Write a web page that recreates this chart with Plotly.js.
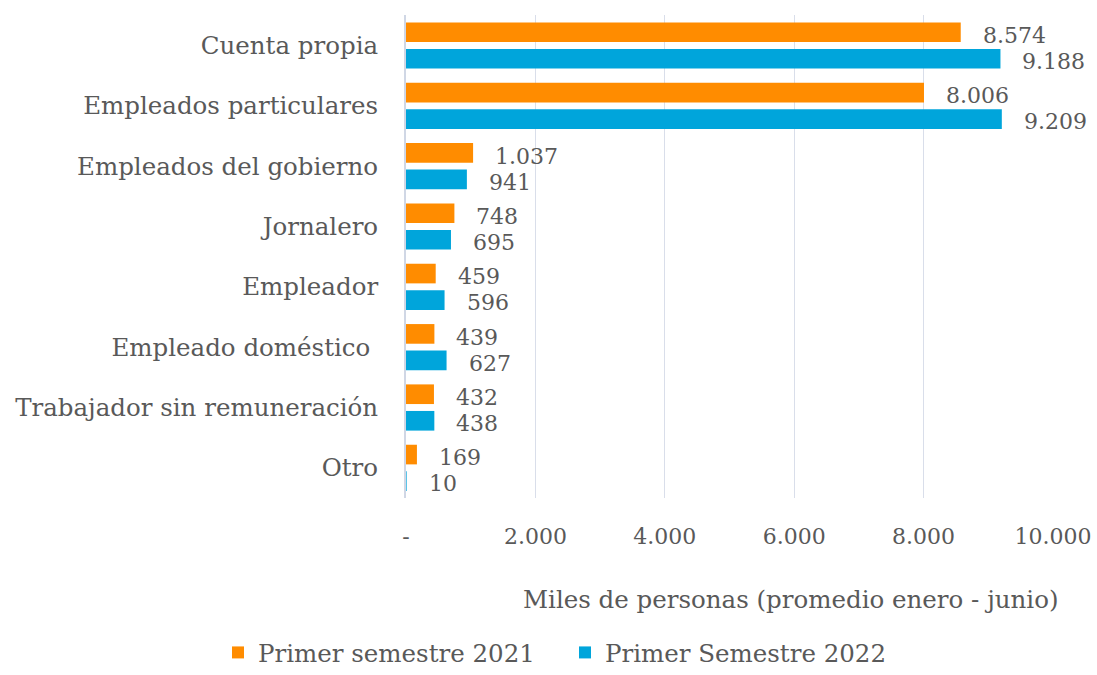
<!DOCTYPE html>
<html><head><meta charset="utf-8">
<script src="https://cdn.plot.ly/plotly-3.0.1.min.js"></script>
<style>html,body{margin:0;padding:0;background:#fff}#chart{width:1097px;height:675px}</style>
</head><body><div id="chart"></div>
<script>
const categories = ["Cuenta propia","Empleados particulares","Empleados del gobierno","Jornalero","Empleador","Empleado doméstico ","Trabajador sin remuneración","Otro"];
const values2021 = [8574,8006,1037,748,459,439,432,169];
const values2022 = [9188,9209,941,695,596,627,438,10];
const seriesNames = ["Primer semestre 2021","Primer Semestre 2022"];
const tickVals = [0,2000,4000,6000,8000,10000];
const tickText = ["-","2.000","4.000","6.000","8.000","10.000"];
const axisTitle = "Miles de personas (promedio enero - junio)";

const FONT = "DejaVu Serif";
const GRAY = "#595959";
const ORANGE = "#FF8C00";
const BLUE = "#00A5DB";
function fmt(v){return String(v).replace(/\B(?=(\d{3})+(?!\d))/g,".");}

const traces = [
 {type:"bar",orientation:"h",name:seriesNames[0],y:categories,x:values2021,marker:{color:ORANGE},hoverinfo:"x"},
 {type:"bar",orientation:"h",name:seriesNames[1],y:categories,x:values2022,marker:{color:BLUE},hoverinfo:"x"}
];
const ann = [];
categories.forEach((c,i)=>{
  ann.push({x:values2021[i],y:c,xref:"x",yref:"y",text:fmt(values2021[i]),showarrow:false,xanchor:"left",yanchor:"middle",xshift:20,yshift:10,font:{family:FONT,size:22,color:GRAY}});
  ann.push({x:values2022[i],y:c,xref:"x",yref:"y",text:fmt(values2022[i]),showarrow:false,xanchor:"left",yanchor:"middle",xshift:20,yshift:-16,font:{family:FONT,size:22,color:GRAY}});
});
ann.push({x:(790-406)/647,y:(498-599)/483,xref:"paper",yref:"paper",text:axisTitle,showarrow:false,xanchor:"center",yanchor:"middle",font:{family:FONT,size:24.5,color:GRAY}});

const layout = {
 width:1097,height:675,
 margin:{l:406,r:44,t:15,b:177,autoexpand:false},
 paper_bgcolor:"#fff",plot_bgcolor:"#fff",
 barmode:"group",bargap:0.12,bargroupgap:0.26,
 showlegend:true,
 legend:{orientation:"h",x:(218-406)/647,xanchor:"left",y:(498-675)/483,yanchor:"bottom",entrywidth:302,entrywidthmode:"pixels",font:{family:FONT,size:24.5,color:GRAY},traceorder:"normal"},
 xaxis:{range:[0,10000],tickvals:tickVals,ticktext:tickText,showgrid:true,gridcolor:"#D9DEEA",gridwidth:1,zeroline:false,showline:false,ticks:"",ticklabelstandoff:23,tickfont:{family:FONT,size:22,color:GRAY},fixedrange:true},
 yaxis:{autorange:"reversed",type:"category",showgrid:false,zeroline:false,showline:true,linecolor:"#D0D7E5",linewidth:2,ticks:"",ticklabelstandoff:21,tickfont:{family:FONT,size:24.5,color:GRAY},fixedrange:true},
 annotations:ann,
 font:{family:FONT,color:GRAY}
};
Plotly.newPlot("chart",traces,layout,{displayModeBar:false,staticPlot:true});
</script></body></html>
